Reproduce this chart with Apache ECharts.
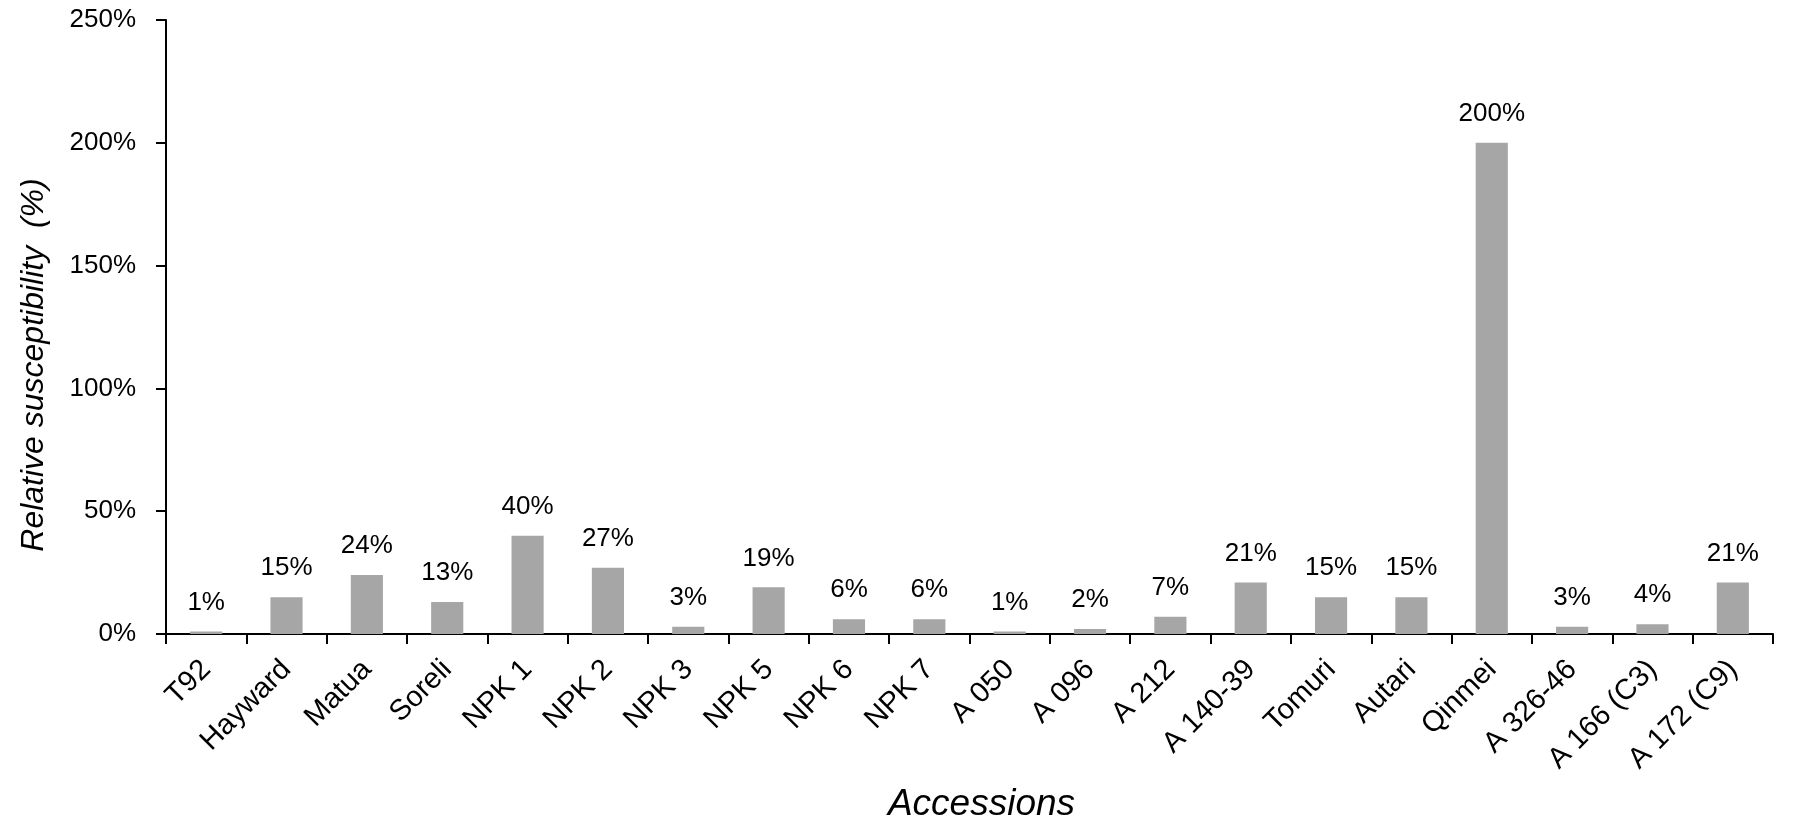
<!DOCTYPE html>
<html lang="en">
<head>
    <meta charset="UTF-8">
    <title>Relative susceptibility</title>
    <script src="https://cdn.jsdelivr.net/npm/echarts@6/dist/echarts.min.js"></script>
    <style>
        body { margin: 0; background: #fff; }
        #main { width: 1799px; height: 820px; }
    </style>
</head>
<body>
    <div id="main"></div>
    <script>
        var accessions = ['T92', 'Hayward', 'Matua', 'Soreli', 'NPK 1', 'NPK 2', 'NPK 3', 'NPK 5', 'NPK 6', 'NPK 7',
            'A 050', 'A 096', 'A 212', 'A 140-39', 'Tomuri', 'Autari', 'Qinmei', 'A 326-46', 'A 166 (C3)', 'A 172 (C9)'];
        var susceptibility = [1, 15, 24, 13, 40, 27, 3, 19, 6, 6, 1, 2, 7, 21, 15, 15, 200, 3, 4, 21];
        var yTicks = [0, 50, 100, 150, 200, 250];

        var font = 'Liberation Sans, Arial, Helvetica, sans-serif';
        var chart = echarts.init(document.getElementById('main'));
        chart.setOption({
            backgroundColor: '#ffffff',
            animation: false,
            grid: { left: 166, right: 26, top: 20, bottom: 186, outerBoundsMode: 'none', containLabel: false },
            xAxis: {
                type: 'category',
                data: accessions,
                name: 'Accessions',
                nameLocation: 'middle',
                nameGap: 152,
                nameTextStyle: { fontFamily: font, fontStyle: 'italic', fontSize: 37, color: '#000', padding: [0, 0, 0, 24] },
                axisLine: { lineStyle: { color: '#000', width: 2 } },
                axisTick: { show: true, length: 10, lineStyle: { color: '#000', width: 2 } },
                axisLabel: { rotate: 45, fontFamily: font, fontSize: 29, color: '#000', margin: 31, interval: 0 }
            },
            yAxis: {
                type: 'value',
                min: yTicks[0],
                max: yTicks[yTicks.length - 1],
                interval: 50,
                name: 'Relative susceptibility  (%)',
                nameLocation: 'middle',
                nameGap: 116,
                nameTextStyle: { fontFamily: font, fontStyle: 'italic', fontSize: 32, color: '#000', padding: [0, 76, 0, 0] },
                splitLine: { show: false },
                axisLine: { show: true, lineStyle: { color: '#000', width: 2 } },
                axisTick: { show: true, length: 10, lineStyle: { color: '#000', width: 2 } },
                axisLabel: { fontFamily: font, fontSize: 26, color: '#000', margin: 30, formatter: '{value}%' }
            },
            series: [{
                type: 'bar',
                data: susceptibility,
                barWidth: '40%',
                itemStyle: { color: '#a6a6a6' },
                label: {
                    show: true,
                    position: 'top',
                    distance: 16,
                    fontFamily: font,
                    fontSize: 26,
                    color: '#000',
                    formatter: '{c}%'
                }
            }]
        });
    </script>
</body>
</html>
